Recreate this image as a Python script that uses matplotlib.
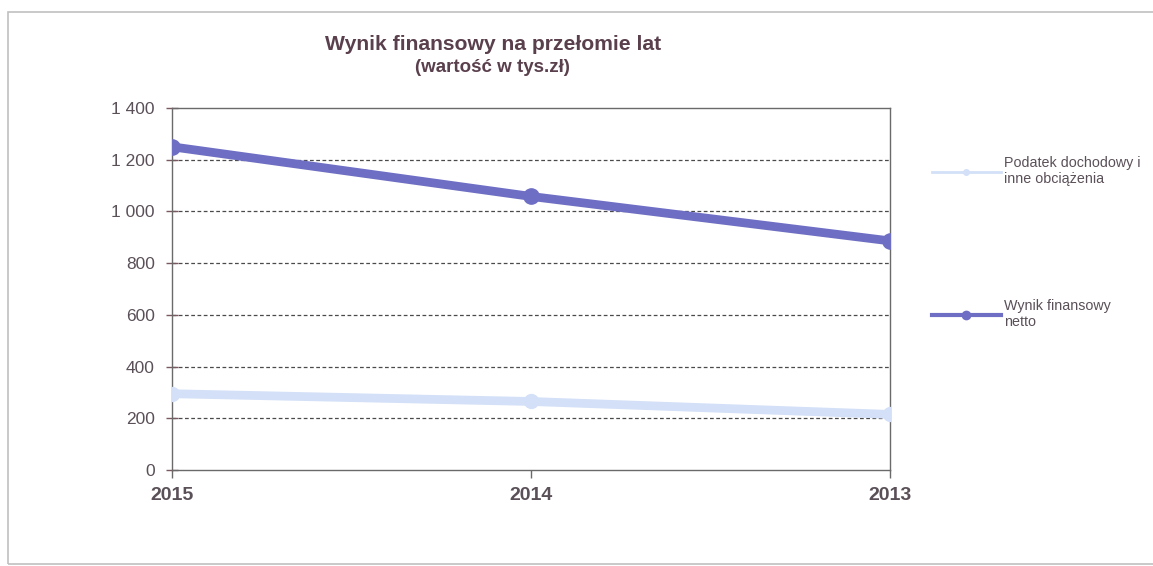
import matplotlib
matplotlib.use("Agg")
import matplotlib.pyplot as plt
from matplotlib.lines import Line2D
from matplotlib.patches import Rectangle

plt.rcParams['font.family'] = ['Liberation Sans', 'DejaVu Sans']

# Data
years = ["2015", "2014", "2013"]
podatek = [295, 265, 215]
wynik_netto = [1250, 1058, 886]
y_ticks = [0, 200, 400, 600, 800, 1000, 1200, 1400]
y_tick_labels = ["0", "200", "400", "600", "800", "1 000", "1 200", "1 400"]
series_labels = ["Podatek dochodowy i\ninne obciążenia", "Wynik finansowy\nnetto"]

c_light = "#d3e0f7"
c_purple = "#6e6ec4"
c_text = "#5a5058"
c_grid = "#4a4a4a"

W, H = 1153, 566
fig = plt.figure(figsize=(W / 100, H / 100), dpi=100)

# Outer chart frame
fig.add_artist(Rectangle((8 / W, 2 / H), 1.2, 552 / H, transform=fig.transFigure,
                         fill=False, edgecolor="#c0c0c0", linewidth=1.2))

ax = fig.add_axes([172 / W, 1 - 470 / H, 718 / W, 362 / H])
x = list(range(len(years)))

ax.plot(x, podatek, color=c_light, linewidth=6.3, marker="o", markersize=10,
        solid_capstyle="round", zorder=3)
ax.plot(x, wynik_netto, color=c_purple, linewidth=6.3, marker="o", markersize=11,
        solid_capstyle="round", zorder=4)

ax.set_xlim(0, len(years) - 1)
ax.set_ylim(0, 1400)
ax.set_xticks(x)
ax.set_xticklabels(years, fontsize=14, fontweight="bold", color=c_text)
ax.set_yticks(y_ticks)
ax.set_yticklabels(y_tick_labels, fontsize=12.5, color=c_text)

for y in y_ticks[1:-1]:
    ax.axhline(y, color=c_grid, linewidth=0.9, linestyle=(0, (3, 2)), zorder=1)

for s in ax.spines.values():
    s.set_color("#6a6a6a")
    s.set_linewidth(1.0)
ax.tick_params(axis="y", direction="inout", length=9, width=1, colors="#7a5a60",
               labelcolor=c_text, pad=8)
ax.tick_params(axis="x", direction="out", length=6, width=1, colors="#6a6a6a",
               labelcolor=c_text, pad=6)

fig.text(493 / W, 1 - 45 / H, "Wynik finansowy na przełomie lat", ha="center",
         va="center", fontsize=15.2, fontweight="bold", color="#5a3f4c")
fig.text(492 / W, 1 - 68 / H, "(wartość w tys.zł)", ha="center", va="center",
         fontsize=13.5, fontweight="bold", color="#5a3f4c")

# Legend entries, one per series, placed to the right of the plot
h1 = Line2D([], [], color=c_light, linewidth=2, marker="o", markersize=4)
h2 = Line2D([], [], color=c_purple, linewidth=3, marker="o", markersize=6)
for h, lab, ytop in [(h1, series_labels[0], 156), (h2, series_labels[1], 299)]:
    fig.legend([h], [lab], loc="upper left", bbox_to_anchor=(932 / W, 1 - ytop / H),
               frameon=False, fontsize=10.3, handlelength=4.8, handletextpad=0.25,
               borderpad=0, borderaxespad=0, labelcolor=c_text)

fig.savefig("out.png", dpi=100, facecolor="white")
